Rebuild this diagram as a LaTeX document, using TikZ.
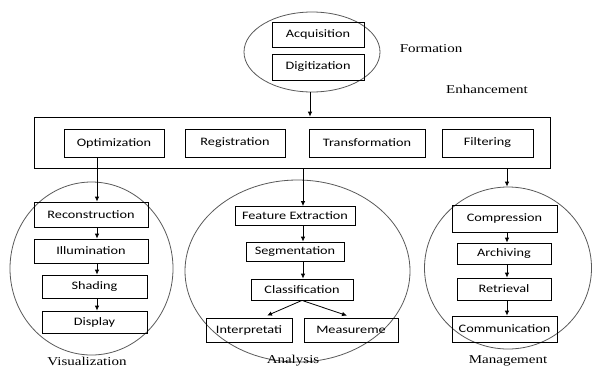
\documentclass[tikz,border=0pt]{standalone}
\usepackage{fontspec}
\usetikzlibrary{arrows.meta,calc,shapes.geometric}
\newfontfamily\boxfont[FakeStretch=1.25]{Carlito}
\newfontfamily\labelfont[FakeStretch=1.25]{Liberation Serif}

\tikzset{
    stage/.style={draw, rectangle, inner sep=0pt, line width=0.8pt,
        font=\boxfont\fontsize{11.4}{12}\selectfont},
    group/.style={draw=black!65, ellipse, inner sep=0pt, line width=0.8pt},
    grouplabel/.style={font=\labelfont\fontsize{12}{13}\selectfont},
    flow/.style={-{Latex[length=5pt,width=4.5pt]}, line width=0.8pt},
}

\begin{document}
\begin{tikzpicture}[x=1pt, y=-1pt]
    \useasboundingbox (0,0) rectangle (593,367);

    % formation
    \node[group, minimum width=136pt, minimum height=80pt] (form) at (312,52) {};
    \node[stage, minimum width=92pt, minimum height=25pt] (acq) at (318,34.5) {Acquisition};
    \node[stage, minimum width=92pt, minimum height=26pt] (dig) at (318,67) {Digitization};
    \node[grouplabel] (formlbl) at (431,49) {Formation};
    \node[grouplabel] (enhlbl) at (487,89) {Enhancement};

    % enhancement row
    \node[stage, minimum width=516pt, minimum height=51pt] (enh) at (292,142.5) {};
    \node[stage, minimum width=100pt, minimum height=28pt] (opt) at (114,143) {Optimization};
    \node[stage, minimum width=100pt, minimum height=28pt] (reg) at (235,143) {Registration};
    \node[stage, minimum width=116pt, minimum height=28pt] (trans) at (367,143) {Transformation};
    \node[stage, minimum width=91pt, minimum height=28pt] (filt) at (487.5,143) {Filtering};

    % the three groups below
    \node[group, minimum width=163pt, minimum height=173pt] (vis) at (91.5,268.5) {};
    \node[group, minimum width=225pt, minimum height=182pt] (ana) at (297.5,271) {};
    \node[group, minimum width=167pt, minimum height=162pt] (mgmt) at (508,268) {};

    % columns of the vertical connectors
    \coordinate (fcol) at (310,0);
    \coordinate (vcol) at (97,0);
    \coordinate (acol) at (303,0);
    \coordinate (mcol) at (507,0);

    % visualization
    \node[stage, minimum width=114pt, minimum height=25pt] (rec) at (91,214.5) {Reconstruction};
    \node[stage, minimum width=114pt, minimum height=24pt] (ill) at (91,251) {Illumination};
    \node[stage, minimum width=105pt, minimum height=23pt] (shad) at (94.5,286.5) {Shading};
    \node[stage, minimum width=105pt, minimum height=22pt] (disp) at (94.5,322) {Display};
    \node[grouplabel] (vislbl) at (87,361) {Visualization};

    % analysis
    \node[stage, minimum width=120pt, minimum height=19pt] (feat) at (295,216) {Feature Extraction};
    \node[stage, minimum width=98pt, minimum height=19pt] (seg) at (295,251.5) {Segmentation};
    \node[stage, minimum width=102pt, minimum height=21pt] (cls) at (302,289.5) {Classification};
    \node[stage, minimum width=86pt, minimum height=24pt] (interp) at (249,330) {Interpretati};
    \node[stage, minimum width=94pt, minimum height=24pt] (meas) at (351,330) {Measureme};
    \node[grouplabel] (analbl) at (293,361) {Analysis};

    % management
    \node[stage, minimum width=105pt, minimum height=27pt] (comp) at (504.5,218.5) {Compression};
    \node[stage, minimum width=94pt, minimum height=21pt] (arch) at (504,253.5) {Archiving};
    \node[stage, minimum width=94pt, minimum height=22pt] (retr) at (504,289) {Retrieval};
    \node[stage, minimum width=105pt, minimum height=26pt] (comm) at (504.5,329) {Communication};
    \node[grouplabel] (mgmtlbl) at (508,361) {Management};

    % connectors
    \draw[flow] (form.south -| fcol) -- (enh.north -| fcol);

    \draw[flow] (opt.south -| vcol) -- (rec.north -| vcol);
    \draw[flow] (rec.south -| vcol) -- (ill.north -| vcol);
    \draw[flow] (ill.south -| vcol) -- (shad.north -| vcol);
    \draw[flow] (shad.south -| vcol) -- (disp.north -| vcol);

    \draw[flow] (enh.south -| acol) -- (feat.north -| acol);
    \draw[flow] (feat.south -| acol) -- (seg.north -| acol);
    \draw[flow] (seg.south -| acol) -- (cls.north -| acol);
    \draw[flow] (cls.south) -- ($(interp.north)+(18,-2)$);
    \draw[flow] (cls.south) -- ($(meas.north)+(-4,-2)$);

    \draw[flow] (enh.south -| mcol) -- (mgmt.north -| mcol);
    \draw[flow] (comp.south -| mcol) -- (arch.north -| mcol);
    \draw[flow] (arch.south -| mcol) -- (retr.north -| mcol);
    \draw[flow] (retr.south -| mcol) -- (comm.north -| mcol);
\end{tikzpicture}
\end{document}
